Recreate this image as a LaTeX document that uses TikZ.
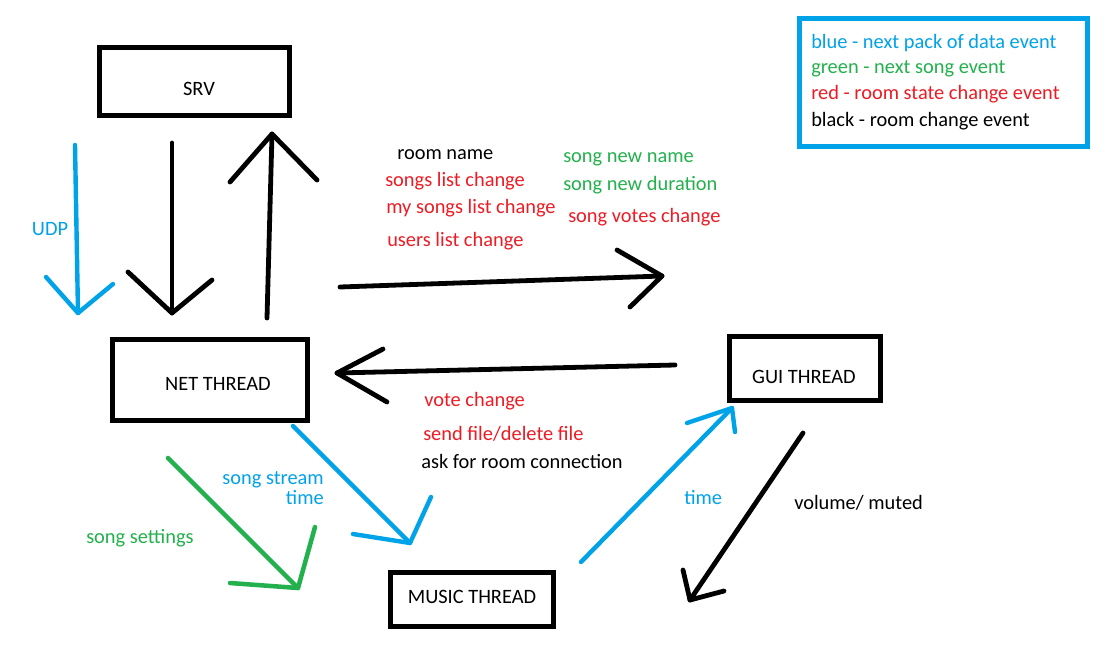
\documentclass[tikz,border=0pt]{standalone}
\usepackage{fontspec}
\setmainfont{Carlito}
\definecolor{pblue}{HTML}{00A2E8}
\definecolor{pgreen}{HTML}{22B14C}
\definecolor{pred}{HTML}{ED1C24}
\begin{document}
\begin{tikzpicture}[x=0.75pt,y=-0.75pt,
  txt/.style={inner sep=0pt,anchor=west,yshift=-1.5pt,font=\fontsize{15.3}{15}\selectfont},
  ctxt/.style={inner sep=0pt,yshift=-1.5pt,font=\fontsize{15.3}{15}\selectfont},
  blk/.style={draw=black,line width=3.6pt,line cap=round,line join=round},
  blu/.style={draw=pblue,line width=3.3pt,line cap=round,line join=round},
  grn/.style={draw=pgreen,line width=3.4pt,line cap=round,line join=round}]
\useasboundingbox (0,0) rectangle (1114,644);
\fill[white] (0,0) rectangle (1114,644);
% boxes
\draw[black,line width=3.75pt] (99,47) rectangle (289,115);
\node[ctxt] (srv) at (199,87) {SRV};
\draw[black,line width=3.75pt] (112,339) rectangle (307,420);
\node[ctxt] (net) at (218,382) {NET THREAD};
\draw[black,line width=3.75pt] (729,336) rectangle (880,400);
\node[ctxt] (gui) at (804,375) {GUI THREAD};
\draw[black,line width=3.75pt] (390,572) rectangle (553,626);
\node[ctxt] (music) at (472,595) {MUSIC THREAD};
% legend
\draw[pblue,line width=3.75pt] (799,18) rectangle (1087,146);
\node[txt,text=pblue] (l1) at (811,41) {blue - next pack of data event};
\node[txt,text=pgreen] (l2) at (811,67) {green - next song event};
\node[txt,text=pred] (l3) at (811,92) {red - room state change event};
\node[txt,text=black] (l4) at (811,119) {black - room change event};
% arrows: UDP
\coordinate (u0) at (75,145); \coordinate (u1) at (78,313);
\coordinate (uh1) at (46,277); \coordinate (uh2) at (113,284);
\draw[blu] (u0) -- (u1); \draw[blu] (uh1) -- (u1) -- (uh2);
\node[ctxt,text=pblue] (udp) at (50,227) {UDP};
% SRV -> NET
\coordinate (d0) at (172,143); \coordinate (d1) at (172,313);
\coordinate (dh1) at (128,272); \coordinate (dh2) at (212,280);
\draw[blk] (d0) -- (d1); \draw[blk] (dh1) -- (d1) -- (dh2);
% NET -> SRV
\coordinate (p0) at (267,318); \coordinate (p1) at (272,134);
\coordinate (ph1) at (230,182); \coordinate (ph2) at (317,180);
\draw[blk] (p0) -- (p1); \draw[blk] (ph1) -- (p1) -- (ph2);
% NET -> GUI
\coordinate (r0) at (340,287); \coordinate (r1) at (662,276);
\coordinate (rh1) at (617,250); \coordinate (rh2) at (630,307);
\draw[blk] (r0) -- (r1); \draw[blk] (rh1) -- (r1) -- (rh2);
% GUI -> NET
\coordinate (g0) at (675,365); \coordinate (g1) at (337,373);
\coordinate (gh1) at (383,349); \coordinate (gh2) at (387,402);
\draw[blk] (g0) -- (g1); \draw[blk] (gh1) -- (g1) -- (gh2);
% green song settings
\coordinate (s0) at (168,458); \coordinate (s1) at (298,588);
\coordinate (sh1) at (230,583); \coordinate (sh2) at (315,527);
\draw[grn] (s0) -- (s1); \draw[grn] (sh1) -- (s1) -- (sh2);
% blue NET -> MUSIC
\coordinate (m0) at (293,426); \coordinate (m1) at (410,543);
\coordinate (mh1) at (353,534); \coordinate (mh2) at (431,497);
\draw[blu] (m0) -- (m1); \draw[blu] (mh1) -- (m1) -- (mh2);
% blue MUSIC -> GUI
\coordinate (t0) at (581,562); \coordinate (t1) at (732,408);
\coordinate (th1) at (687,423); \coordinate (th2) at (735,432);
\draw[blu] (t0) -- (t1); \draw[blu] (th1) -- (t1) -- (th2);
% black GUI -> MUSIC
\coordinate (v0) at (803,433); \coordinate (v1) at (690,600);
\coordinate (vh1) at (683,570); \coordinate (vh2) at (724,591);
\draw[blk] (v0) -- (v1); \draw[blk] (vh1) -- (v1) -- (vh2);
% labels
\node[txt,text=black] (t1a) at (397,153) {room name};
\node[txt,text=pred] (t1b) at (385,179) {songs list change};
\node[txt,text=pred] (t1c) at (386,206) {my songs list change};
\node[txt,text=pred] (t1d) at (387,239) {users list change};
\node[txt,text=pgreen] (t2a) at (563,157) {song new name};
\node[txt,text=pgreen] (t2b) at (563,183) {song new duration};
\node[txt,text=pred] (t2c) at (568,215) {song votes change};
\node[txt,text=pred] (t3a) at (424,399) {vote change};
\node[txt,text=pred] (t3b) at (423,432) {send file/delete file};
\node[txt,text=black] (t3c) at (421,459) {ask for room connection};
\node[ctxt,text=pblue,align=right,anchor=east] (t4) at (324,486) {song stream\\time};
\node[txt,text=pgreen] (t5) at (86,536) {song settings};
\node[txt,text=pblue] (t6) at (684,496) {time};
\node[txt,text=black] (t7) at (794,501) {volume/ muted};
\end{tikzpicture}
\end{document}
